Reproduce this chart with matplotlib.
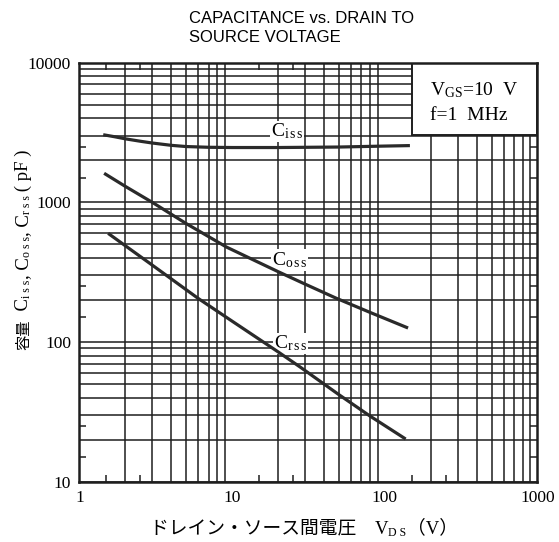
import matplotlib
matplotlib.use("Agg")
import matplotlib.pyplot as plt
from matplotlib.patches import Rectangle

plt.rcParams['font.family'] = ['Liberation Serif', 'Noto Sans CJK JP']
plt.rcParams['mathtext.fontset'] = 'custom'
plt.rcParams['mathtext.rm'] = 'Liberation Serif'
plt.rcParams['mathtext.it'] = 'Liberation Serif:italic'

# values (V_DS in V, capacitance in pF)
ciss_v = [1.43, 1.7, 2, 2.5, 3, 4, 5, 7, 10, 20, 50, 100, 146]
ciss_c = [3050, 2950, 2850, 2740, 2660, 2560, 2510, 2480, 2470, 2470, 2490, 2530, 2550]

coss_v = [1.45, 2, 3, 5, 9.2, 14, 20, 30, 48, 80, 142]
coss_c = [1615, 1300, 1000, 705, 478, 384, 319, 260, 206, 163, 126]

crss_v = [1.54, 3, 6, 10, 20, 28, 50, 80, 137]
crss_c = [600, 355, 205, 141, 85, 66, 42, 29.5, 20.2]

xticks = [1, 10, 100, 1000]
xtick_labels = ["1", "10", "100", "1000"]
yticks = [10, 100, 1000, 10000]
ytick_labels = ["10", "100", "1000", "10000"]

INK = '#1e1e1e'
W, H = 559, 542

fig = plt.figure(figsize=(W / 100, H / 100), dpi=100)
ax = fig.add_axes([0.1422, 0.1113, 0.8193, 0.773])
ax.set_xscale('log')
ax.set_yscale('log')
ax.set_xlim(1, 1000)
ax.set_ylim(10, 10000)

# full log grid, drawn by hand like the printed chart paper
for dec in [1, 10, 100]:
    for m in range(2, 10):
        ax.axvline(m * dec, color=INK, lw=1.1, zorder=1)
for dec in [10, 100, 1000]:
    for m in range(1, 10):
        ax.axhline(m * dec, color=INK, lw=1.1, zorder=1)

# condition box in the top right corner
ax.add_patch(Rectangle((151, 3050), 1000 - 151, 10000 - 3050, facecolor='white',
                       edgecolor=INK, lw=1.4, zorder=3))
ax.text(198, 5870, r"$\mathrm{V_{GS}}$=10  V", fontsize=14, va='baseline', zorder=4)
ax.text(198, 3890, "f=1  MHz", fontsize=14, va='baseline', zorder=4)

# curves
for v, c in [(ciss_v, ciss_c), (coss_v, coss_c), (crss_v, crss_c)]:
    ax.plot(v, c, color='#2a2a2a', lw=2.3, solid_capstyle='butt', zorder=5)

lbl = dict(fontsize=14, va='center', ha='left', zorder=4,
           bbox=dict(facecolor='white', edgecolor='none', pad=0.6))
ax.text(17.9, 3217, r"C$_{\mathrm{i\,s\,s}}$", **lbl)
ax.text(18.2, 387, r"C$_{\mathrm{o\,s\,s}}$", **lbl)
ax.text(18.8, 97.7, r"C$_{\mathrm{r\,s\,s}}$", **lbl)

# ticks: labels at decades, short inward marks at 1.5 and 2.5
ax.set_xticks(xticks, labels=xtick_labels)
ax.set_yticks(yticks, labels=ytick_labels)
ax.set_xticks([1.5, 2.5, 15, 25, 150, 250], minor=True)
ax.set_yticks([15, 25, 150, 250, 1500, 2500], minor=True)
ax.tick_params(which='major', length=0, pad=6, labelsize=12.5)
ax.tick_params(which='minor', direction='in', length=5, width=1.1, color=INK,
               top=True, right=True, labelbottom=False, labelleft=False)
for s in ax.spines.values():
    s.set_linewidth(1.8)
    s.set_color(INK)
    s.set_zorder(6)

fig.text(189 / W, 1 - 11 / H, "CAPACITANCE vs. DRAIN TO\nSOURCE VOLTAGE",
         ha='left', va='top', family=['Liberation Sans'], fontsize=12, linespacing=1.3)


def chain(pieces, x0, y0, vertical):
    # lay pieces of text one after another; shift moves a piece below its baseline
    prev = None
    for text, size, shift in pieces:
        kw = dict(fontsize=size, ha='left', va='baseline', rotation_mode='anchor',
                  rotation=90 if vertical else 0)
        if vertical:
            pos = (x0 + shift, y0)
        else:
            pos = (x0, y0 - shift)
        if prev is None:
            t = fig.text(pos[0] / W, pos[1] / H, text, **kw)
        elif vertical:
            t = ax.annotate(text, xy=(pos[0], 1), xycoords=('figure pixels', prev),
                            annotation_clip=False, **kw)
        else:
            t = ax.annotate(text, xy=(1, pos[1]), xycoords=(prev, 'figure pixels'),
                            annotation_clip=False, **kw)
        prev = t


# x axis title, left to right
chain([("ドレイン・ソース間電圧　V", 13.5, 0), ("D S", 8.5, 3), ("（V）", 13.5, 0)],
      150, H - 533, vertical=False)

# y axis title, bottom to top
chain([("容量", 11, 0), ("  C", 13.5, 0), ("i s s", 8.5, 2), (", C", 13.5, 0),
       ("o s s", 8.5, 2), (", C", 13.5, 0), ("r s s", 8.5, 2), (" ( pF )", 13.5, 0)],
      28, H - 350, vertical=True)

fig.savefig("out.png", dpi=100)
